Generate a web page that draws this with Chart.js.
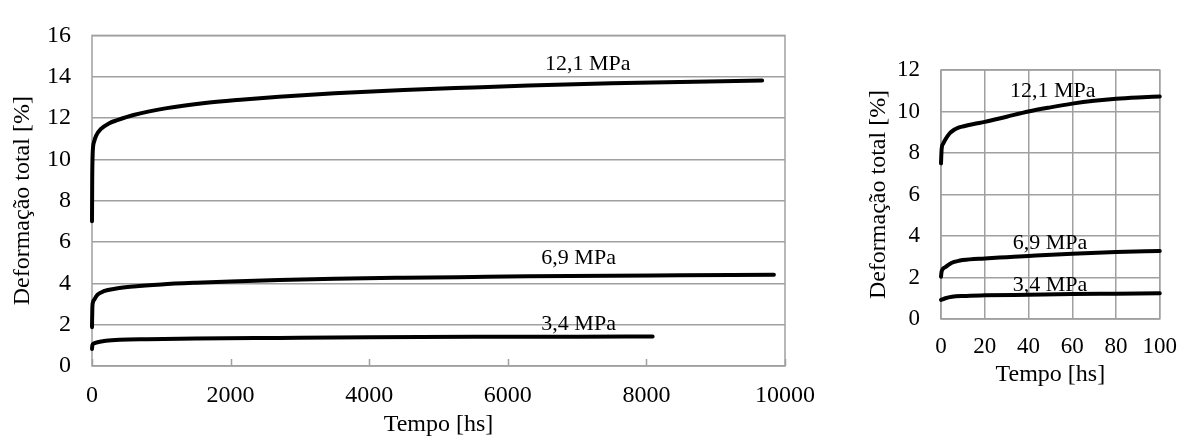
<!DOCTYPE html>
<html>
<head>
<meta charset="utf-8">
<script src="https://cdn.jsdelivr.net/npm/chart.js@4/dist/chart.umd.min.js"></script>
<style>
  html, body { margin: 0; padding: 0; background: #fff; width: 1191px; height: 439px; overflow: hidden; }
  .panel { position: absolute; top: 0; }
  #panelFull { left: 0; width: 830px; height: 439px; }
  #panelZoom { left: 820px; width: 371px; height: 439px; }
</style>
</head>
<body>
<div id="panelFull" class="panel"><canvas id="full" width="830" height="439"></canvas></div>
<div id="panelZoom" class="panel"><canvas id="zoomed" width="371" height="439"></canvas></div>
<script>
// Creep tests: total strain [%] against time [h] for three stress levels.

// Full test duration
const fullTime121   = [0, 3, 10, 30, 60, 125, 250, 365, 600, 1080, 1600, 2190, 2700, 3500, 4500, 5500, 6300, 7500, 8500, 9670];
const fullStrain121 = [7.0, 9.0, 10.3, 10.85, 11.15, 11.46, 11.75, 11.9, 12.15, 12.48, 12.72, 12.9, 13.03, 13.2, 13.36, 13.48, 13.57, 13.68, 13.75, 13.82];

const fullTime69    = [0, 5, 15, 30, 80, 170, 350, 600, 1000, 1500, 2000, 2700, 3500, 4500, 5500, 6300, 7500, 8500, 9840];
const fullStrain69  = [1.88, 2.8, 3.1, 3.2, 3.45, 3.62, 3.75, 3.85, 3.95, 4.03, 4.09, 4.16, 4.22, 4.27, 4.31, 4.34, 4.37, 4.39, 4.42];

const fullTime34    = [0, 5, 20, 80, 200, 400, 800, 1500, 2700, 4000, 5500, 7000, 8090];
const fullStrain34  = [0.82, 1.0, 1.08, 1.15, 1.22, 1.27, 1.3, 1.33, 1.36, 1.39, 1.41, 1.42, 1.43];

// First 100 hours
const zoomTime121   = [0, 0.3, 1, 2, 4, 6, 8, 10, 15, 20, 30, 40, 50, 60, 70, 80, 90, 100];
const zoomStrain121 = [7.5, 8.2, 8.45, 8.65, 8.95, 9.12, 9.22, 9.28, 9.4, 9.5, 9.75, 10.0, 10.2, 10.38, 10.52, 10.62, 10.68, 10.72];

const zoomTime69    = [0, 0.3, 2, 4, 6, 8, 10, 20, 30, 40, 60, 80, 100];
const zoomStrain69  = [2.04, 2.3, 2.5, 2.65, 2.75, 2.8, 2.84, 2.92, 2.98, 3.04, 3.15, 3.23, 3.28];

const zoomTime34    = [0, 2, 5, 10, 20, 40, 60, 80, 100];
const zoomStrain34  = [0.92, 1.0, 1.07, 1.11, 1.14, 1.17, 1.2, 1.22, 1.24];

// Axis ticks
const fullXTicks = [0, 2000, 4000, 6000, 8000, 10000];
const fullYTicks = [0, 2, 4, 6, 8, 10, 12, 14, 16];
const zoomXTicks = [0, 20, 40, 60, 80, 100];
const zoomYTicks = [0, 2, 4, 6, 8, 10, 12];

// Curve labels (stress level) and their anchor in data units
const curveLabels = ['12,1 MPa', '6,9 MPa', '3,4 MPa'];
const fullLabelX  = [7155, 7022, 7022];
const fullLabelY  = [14.34, 4.95, 1.73];
const zoomLabelX  = [51.1, 49.8, 49.8];
const zoomLabelY  = [10.68, 3.37, 1.36];

const SERIF = "'Liberation Serif', 'Times New Roman', serif";
const GRID = '#a0a0a0';

function series(xs, ys) {
  return {
    data: xs.map((x, i) => ({ x: x, y: ys[i] })),
    showLine: true,
    borderColor: '#000',
    borderWidth: 4,
    borderCapStyle: 'round',
    borderJoinStyle: 'round',
    pointRadius: 0,
    cubicInterpolationMode: 'monotone',
    clip: false
  };
}

// Box around the plot area, optional inward x tick marks, and curve labels
const decorPlugin = {
  id: 'decor',
  beforeDatasetsDraw(chart, args, opts) {
    const { ctx, chartArea: a, scales } = chart;
    ctx.save();
    ctx.strokeStyle = GRID;
    ctx.lineWidth = 1.5;
    ctx.strokeRect(a.left, a.top, a.right - a.left, a.bottom - a.top);
    if (opts.innerTicks) {
      const sx = scales.x;
      ctx.beginPath();
      sx.ticks.forEach(t => {
        const px = Math.round(sx.getPixelForValue(t.value)) + 0.5;
        ctx.moveTo(px, a.bottom);
        ctx.lineTo(px, a.bottom - 7);
      });
      ctx.stroke();
    }
    ctx.restore();
  },
  afterDatasetsDraw(chart, args, opts) {
    const { ctx, scales } = chart;
    ctx.save();
    ctx.fillStyle = '#000';
    ctx.font = opts.labelSize + 'px ' + SERIF;
    ctx.textAlign = 'center';
    ctx.textBaseline = 'alphabetic';
    opts.texts.forEach((txt, i) => {
      ctx.fillText(txt, scales.x.getPixelForValue(opts.xs[i]), scales.y.getPixelForValue(opts.ys[i]));
    });
    ctx.restore();
  }
};

function tickSetter(values) {
  return scale => { scale.ticks = values.map(v => ({ value: v })); };
}

function buildChart(id, cfg) {
  return new Chart(document.getElementById(id), {
    type: 'scatter',
    data: { datasets: cfg.datasets },
    options: {
      responsive: false,
      animation: false,
      devicePixelRatio: 1,
      layout: { padding: cfg.padding },
      plugins: {
        legend: { display: false },
        tooltip: { enabled: false },
        decor: cfg.decor
      },
      scales: {
        x: {
          type: 'linear',
          min: cfg.xMin, max: cfg.xMax,
          afterBuildTicks: tickSetter(cfg.xTicks),
          afterFit: s => { s.height = cfg.xHeight; },
          grid: { display: cfg.xGrid, color: GRID, lineWidth: 1.5, drawTicks: false },
          border: { display: false },
          ticks: {
            color: '#000', padding: cfg.xTickPad, maxRotation: 0, autoSkip: false,
            font: { family: SERIF, size: cfg.tickSize },
            callback: v => String(v)
          },
          title: {
            display: true, text: 'Tempo [hs]', color: '#000',
            font: { family: SERIF, size: cfg.titleSize },
            padding: { top: 0, bottom: 0 }
          }
        },
        y: {
          type: 'linear',
          min: cfg.yMin, max: cfg.yMax,
          afterBuildTicks: tickSetter(cfg.yTicks),
          afterFit: s => { s.width = cfg.yWidth; },
          grid: { color: GRID, lineWidth: 1.5, drawTicks: false },
          border: { display: false },
          ticks: {
            color: '#000', padding: 21, autoSkip: false,
            font: { family: SERIF, size: cfg.tickSize },
            callback: v => String(v)
          },
          title: {
            display: true, text: 'Deformação total [%]', color: '#000',
            font: { family: SERIF, size: cfg.titleSize },
            padding: { top: cfg.yTitlePad, bottom: 0 }
          }
        }
      }
    },
    plugins: [decorPlugin]
  });
}

buildChart('full', {
  datasets: [
    series(fullTime121, fullStrain121),
    series(fullTime69, fullStrain69),
    series(fullTime34, fullStrain34)
  ],
  padding: { top: 18, right: 41, bottom: 0, left: 0 },
  xMin: 0, xMax: 10000, xTicks: fullXTicks, xHeight: 73, xGrid: false, xTickPad: 15,
  yMin: 0, yMax: 16, yTicks: fullYTicks, yWidth: 92, yTitlePad: 8,
  tickSize: 24, titleSize: 24,
  decor: { innerTicks: true, labelSize: 22, texts: curveLabels, xs: fullLabelX, ys: fullLabelY }
});

buildChart('zoomed', {
  datasets: [
    series(zoomTime121, zoomStrain121),
    series(zoomTime69, zoomStrain69),
    series(zoomTime34, zoomStrain34)
  ],
  padding: { top: 70, right: 27, bottom: 50, left: 0 },
  xMin: 0, xMax: 100, xTicks: zoomXTicks, xHeight: 70, xGrid: true, xTickPad: 14,
  yMin: 0, yMax: 12, yTicks: zoomYTicks, yWidth: 121, yTitlePad: 44,
  tickSize: 23, titleSize: 24,
  decor: { innerTicks: false, labelSize: 22, texts: curveLabels, xs: zoomLabelX, ys: zoomLabelY }
});
</script>
</body>
</html>
